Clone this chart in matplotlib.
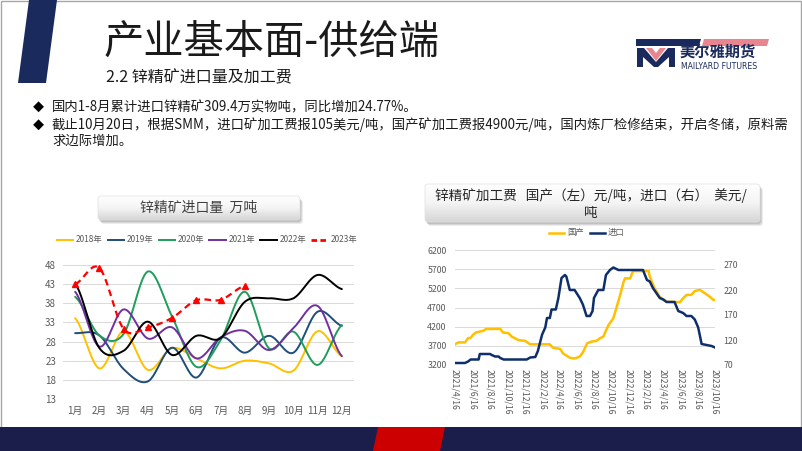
import matplotlib.pyplot as plt
import numpy as np
import pandas as pd
from matplotlib.patches import Polygon, FancyBboxPatch, Rectangle
from matplotlib.lines import Line2D
from matplotlib.colors import LinearSegmentedColormap

plt.rcParams['font.family'] = ['Noto Sans CJK SC', 'DejaVu Sans']

W, H = 802, 451

# ---- 锌精矿进口量 (万吨) ----
MONTHS = ['1月', '2月', '3月', '4月', '5月', '6月', '7月', '8月', '9月', '10月', '11月', '12月']
IMP_2018 = [34.1, 21.0, 30.6, 20.6, 26.3, 23.6, 21.0, 23.0, 22.3, 20.4, 30.7, 24.2]
IMP_2019 = [30.2, 29.6, 20.8, 17.6, 26.4, 18.6, 29.0, 25.1, 29.5, 25.1, 35.8, 32.1]
IMP_2020 = [39.7, 29.6, 30.0, 46.3, 34.5, 21.4, 28.4, 41.0, 26.2, 30.6, 21.9, 32.3]
IMP_2021 = [41.0, 26.7, 36.4, 28.8, 31.7, 23.6, 29.1, 30.8, 25.8, 31.5, 37.3, 24.2]
IMP_2022 = [43.2, 26.3, 25.6, 33.2, 24.5, 29.5, 28.9, 38.4, 39.3, 39.3, 45.4, 41.7]
IMP_2023 = [43.0, 47.2, 31.3, 31.7, 34.2, 38.8, 38.9, 42.6]
YEARS = ['2018年', '2019年', '2020年', '2021年', '2022年', '2023年']
YEAR_COLORS = ['#FFC000', '#1F4E79', '#1E9E5A', '#7030A0', '#000000', '#FF0000']

# ---- 锌精矿加工费 ----
CN_DATES = ['2021-04-16', '2021-04-28', '2021-05-21', '2021-06-01', '2021-06-10', '2021-06-20',
            '2021-06-29', '2021-07-24', '2021-08-03', '2021-09-22', '2021-10-01', '2021-10-21',
            '2021-11-01', '2021-11-25', '2021-12-18', '2022-01-05', '2022-03-15', '2022-03-26',
            '2022-04-20', '2022-05-01', '2022-05-24', '2022-06-10', '2022-06-28', '2022-07-09',
            '2022-07-24', '2022-08-08', '2022-08-26', '2022-09-07', '2022-09-19', '2022-09-25',
            '2022-10-07', '2022-10-24', '2022-11-05', '2022-11-17', '2022-11-29', '2022-12-04',
            '2022-12-22', '2023-01-01', '2023-02-25', '2023-03-01', '2023-03-18', '2023-04-05',
            '2023-04-29', '2023-06-15', '2023-06-26', '2023-07-08', '2023-07-25', '2023-08-06',
            '2023-08-24', '2023-09-11', '2023-09-28', '2023-10-10', '2023-10-16']
TC_CN = [3740, 3790, 3790, 3900, 3910, 4000,
         4050, 4090, 4140, 4140, 4050, 4030,
         3940, 3850, 3830, 3740, 3740, 3650,
         3620, 3500, 3390, 3370, 3420, 3530,
         3765, 3810, 3830, 3900, 3940, 4050,
         4240, 4420, 4720, 5030, 5370, 5460,
         5460, 5650, 5650, 5500, 5200, 4980,
         4850, 4840, 4940, 5030, 5030, 5130,
         5160, 5070, 4980, 4900, 4900]

IMP_DATES = ['2021-04-16', '2021-05-21', '2021-06-01', '2021-06-10', '2021-07-08', '2021-07-12',
             '2021-08-17', '2021-08-23', '2021-09-04', '2021-09-16', '2021-09-22', '2021-10-04',
             '2021-12-24', '2022-01-05', '2022-01-23', '2022-02-01', '2022-02-10', '2022-02-16',
             '2022-02-27', '2022-03-05', '2022-03-15', '2022-03-21', '2022-04-05', '2022-04-14',
             '2022-04-25', '2022-05-07', '2022-05-12', '2022-05-24', '2022-06-10', '2022-06-28',
             '2022-07-09', '2022-07-22', '2022-08-03', '2022-08-12', '2022-08-17', '2022-09-01',
             '2022-09-19', '2022-09-28', '2022-10-12', '2022-10-24', '2022-11-11', '2023-02-05',
             '2023-02-19', '2023-03-01', '2023-03-12', '2023-03-24', '2023-04-05', '2023-04-17',
             '2023-04-29', '2023-05-27', '2023-06-09', '2023-06-26', '2023-07-08', '2023-07-25',
             '2023-08-06', '2023-08-18', '2023-08-30', '2023-10-04', '2023-10-16']
TC_IMP = [74, 74, 77, 81, 81, 92,
          92, 90, 87, 87, 84, 81,
          81, 85, 86, 98, 118, 131,
          145, 164, 164, 181, 181, 204,
          244, 250, 247, 220, 220, 204,
          191, 168, 168, 178, 204, 220,
          220, 250, 260, 265, 260, 260,
          240, 237, 224, 214, 204, 201,
          196, 196, 178, 174, 168, 168,
          161, 145, 112, 108, 105]

GRAY_TXT = '#595959'
GRID = '#D9D9D9'


def smooth(y, n=24):
    """Excel-like smoothed line (Catmull-Rom through the points)"""
    y = np.asarray(y, float)
    xs, ys = [], []
    t = np.linspace(0, 1, n, endpoint=False)
    for i in range(len(y) - 1):
        p0 = y[i - 1] if i > 0 else y[i]
        p1, p2 = y[i], y[i + 1]
        p3 = y[i + 2] if i + 2 < len(y) else y[i + 1]
        seg = 0.5 * (2 * p1 + (-p0 + p2) * t + (2 * p0 - 5 * p1 + 4 * p2 - p3) * t ** 2
                     + (-p0 + 3 * p1 - 3 * p2 + p3) * t ** 3)
        xs.extend(i + t)
        ys.extend(seg)
    xs.append(len(y) - 1)
    ys.append(y[-1])
    return np.array(xs), np.array(ys)


fig = plt.figure(figsize=(W / 100, H / 100), dpi=100)
bg = fig.add_axes([0, 0, 1, 1])
bg.axis('off')


def title_box(x0, y0, w, h):
    for k, a in [(4, 0.15), (3, 0.2), (2, 0.25)]:
        bg.add_patch(FancyBboxPatch((x0 + k - 1, y0 + k), w, h, boxstyle='round,pad=0,rounding_size=3',
                                    fc='#808080', ec='none', alpha=a, zorder=1))
    box = FancyBboxPatch((x0, y0), w, h, boxstyle='round,pad=0,rounding_size=3',
                         fc='none', ec='#E0E0E0', lw=0.5, zorder=3)
    bg.add_patch(box)
    grad = np.linspace(0, 1, 60).reshape(-1, 1)
    cmap = LinearSegmentedColormap.from_list('g', ['#FFFFFF', '#F4F4F4', '#D6D6D6'])
    im = bg.imshow(grad, extent=(x0, x0 + w, y0 + h, y0), cmap=cmap, aspect='auto', zorder=2)
    im.set_clip_path(box)


# slide frame and decorations
bg.add_patch(Rectangle((0.5, 0.5), W - 1.5, 427, fc='none', ec='#A6A6A6', lw=1))
bg.add_patch(Polygon([(29, 0), (57, 0), (46, 83), (18, 83)], fc='#1B2A5C', ec='none'))
bg.add_patch(Rectangle((0, 427), W, 24, fc='#1B1E4B', ec='none'))
bg.add_patch(Polygon([(378, 427), (445, 427), (440, 451), (373, 451)], fc='#CC0000', ec='none'))

bg.text(104, 42, '产业基本面-供给端', fontsize=29, fontweight='light', va='center', ha='left',
        color='#1A1A1A')
bg.text(106, 78, '2.2 锌精矿进口量及加工费', fontsize=11.5, va='center', ha='left', color='#1A1A1A')

# logo
bg.add_patch(Polygon([(636, 39), (701, 39), (699, 46), (636, 46)], fc='#1B2A5C', ec='none'))
bg.add_patch(Polygon([(704, 39), (769, 39), (767, 46), (702, 46)], fc='#E8858E', ec='none'))
bg.add_patch(Polygon([(637, 67), (637, 48), (644, 48), (656, 62), (668, 48), (675, 48), (675, 67),
                      (669, 67), (669, 57), (658, 67), (654, 67), (643, 57), (643, 67)],
                     fc='#1B2A5C', ec='none'))
bg.add_patch(Polygon([(646, 48), (652, 48), (656, 53), (660, 48), (666, 48), (656, 61)],
                     fc='#E8858E', ec='none'))
bg.text(680, 52, '美尔雅期货', fontsize=11, fontweight='bold', va='center', ha='left', color='#1B2A5C')
bg.text(681, 66.5, 'MAILYARD FUTURES', fontsize=5.6, va='center', ha='left', color='#1B2A5C',
        family=['DejaVu Sans'])

# bullets
bullet_fs = 9.6
bg.text(33, 107, '◆', fontsize=8, va='center', ha='left', color='#000000')
bg.text(52, 107, '国内1-8月累计进口锌精矿309.4万实物吨，同比增加24.77%。',
        fontsize=bullet_fs, va='center', ha='left', color='#1A1A1A')
bg.text(33, 125, '◆', fontsize=8, va='center', ha='left', color='#000000')
bg.text(52, 125, '截止10月20日，根据SMM，进口矿加工费报105美元/吨，国产矿加工费报4900元/吨，'
                 '国内炼厂检修结束，开启冬储，原料需',
        fontsize=bullet_fs, va='center', ha='left', color='#1A1A1A')
bg.text(52, 141, '求边际增加。', fontsize=bullet_fs, va='center', ha='left', color='#1A1A1A')

# chart title boxes
title_box(98, 196, 202, 24)
bg.text(199, 208, '锌精矿进口量  万吨', fontsize=10, va='center', ha='center', color='#404040', zorder=4)
title_box(425, 184, 335, 38)
bg.text(591, 204, '锌精矿加工费   国产（左）元/吨，进口（右）  美元/\n吨', fontsize=9.8,
        va='center', ha='center', color='#262626', linespacing=1.2, zorder=4)

bg.set_xlim(0, W)
bg.set_ylim(H, 0)

# ---------------- left chart ----------------
ax1 = fig.add_axes([63 / W, 1 - 399 / H, 291 / W, 134 / H])
series = [IMP_2018, IMP_2019, IMP_2020, IMP_2021, IMP_2022]
handles = []
for vals, col, name in zip(series, YEAR_COLORS[:5], YEARS[:5]):
    sx, sy = smooth(vals)
    ax1.plot(sx, sy, color=col, lw=1.4, solid_capstyle='round')
    handles.append(Line2D([], [], color=col, lw=1.4))
sx, sy = smooth(IMP_2023)
ax1.plot(sx, sy, color=YEAR_COLORS[5], lw=1.6, ls=(0, (3, 2)))
ax1.plot(range(len(IMP_2023)), IMP_2023, ls='none', marker='^', ms=4, color=YEAR_COLORS[5])
handles.append(Line2D([], [], color=YEAR_COLORS[5], lw=2, ls=(0, (2, 1.2))))

ax1.set_xlim(-0.5, 11.5)
ax1.set_ylim(13, 48)
ax1.set_yticks(np.arange(13, 49, 5))
ax1.set_xticks(range(12))
ax1.set_xticklabels(MONTHS)
ax1.tick_params(length=0, labelsize=7, labelcolor=GRAY_TXT, pad=5)
ax1.grid(axis='y', color=GRID, lw=0.7)
ax1.set_axisbelow(True)
for s in ax1.spines.values():
    s.set_visible(False)
ax1.legend(handles, YEARS, loc='center', bbox_to_anchor=(207 / W, 1 - 240 / H),
           bbox_transform=fig.transFigure, ncol=6, frameon=False, fontsize=6,
           handlelength=2.0, columnspacing=0.6, handletextpad=0.3, labelcolor=GRAY_TXT)

# ---------------- right chart ----------------
ax2 = fig.add_axes([455 / W, 1 - 365 / H, 260 / W, 115 / H])
cn_d = pd.to_datetime(CN_DATES)
imp_d = pd.to_datetime(IMP_DATES)
l1, = ax2.plot(cn_d, TC_CN, color='#FFC000', lw=1.8)
ax2.set_ylim(3200, 6200)
ax2.set_yticks(np.arange(3200, 6201, 500))
ax2.grid(axis='y', color=GRID, lw=0.7)
ax2.set_axisbelow(True)

ax2r = ax2.twinx()
l2, = ax2r.plot(imp_d, TC_IMP, color='#0E2F6B', lw=1.8)
ax2r.set_ylim(70, 300)
ax2r.set_yticks(np.arange(70, 271, 50))

ticks = [pd.Timestamp('2021-04-16') + pd.DateOffset(months=2 * i) for i in range(16)]
ax2.set_xlim(ticks[0], ticks[-1])
ax2.set_xticks(ticks)
ax2.set_xticklabels([f'{d.year}/{d.month}/{d.day}' for d in ticks], rotation=270)
for a in (ax2, ax2r):
    a.tick_params(length=0, labelsize=6.3, labelcolor=GRAY_TXT, pad=6)
    for s in a.spines.values():
        s.set_visible(False)
ax2.tick_params(axis='x', pad=3)

ax2.legend([l1, l2], ['国产', '进口'], loc='center', bbox_to_anchor=(587 / W, 1 - 233 / H),
           bbox_transform=fig.transFigure, ncol=2, frameon=False, fontsize=6,
           handlelength=1.8, columnspacing=0.8, handletextpad=0.3, labelcolor=GRAY_TXT)

fig.savefig('out.png', dpi=100, facecolor='white')
